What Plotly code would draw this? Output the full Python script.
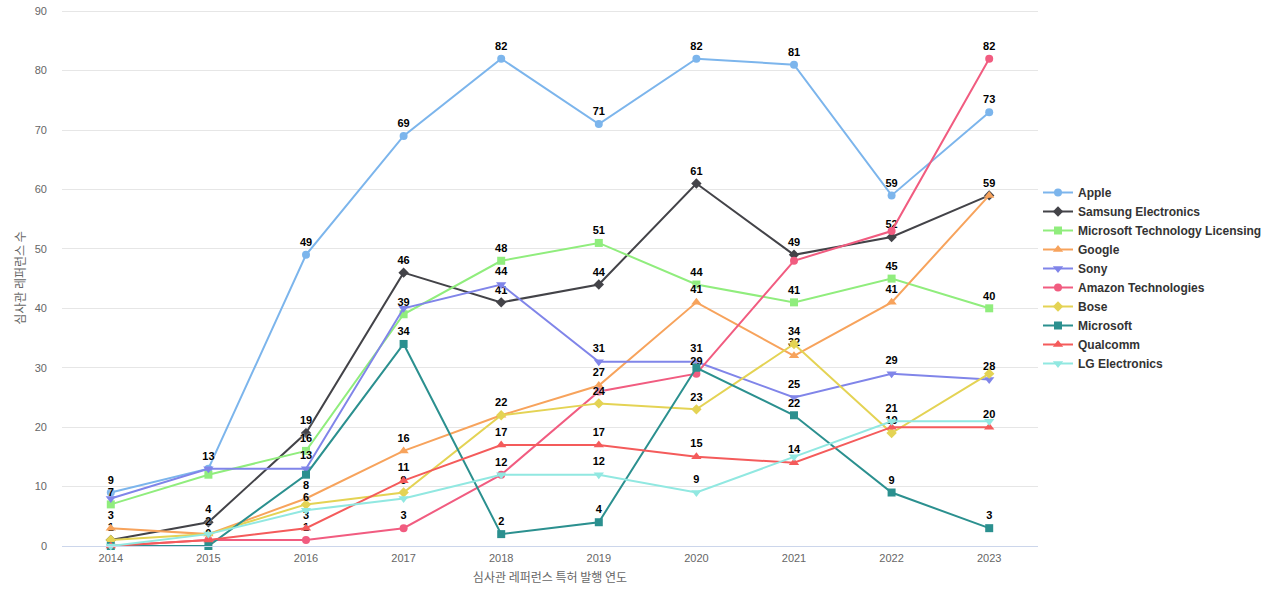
import plotly.graph_objects as go

years = [2014, 2015, 2016, 2017, 2018, 2019, 2020, 2021, 2022, 2023]

series_names = ["Apple", "Samsung Electronics", "Microsoft Technology Licensing", "Google",
                "Sony", "Amazon Technologies", "Bose", "Microsoft", "Qualcomm", "LG Electronics"]

apple = [9, 13, 49, 69, 82, 71, 82, 81, 59, 73]
samsung = [1, 4, 19, 46, 41, 44, 61, 49, 52, 59]
mtl = [7, 12, 16, 39, 48, 51, 44, 41, 45, 40]
google = [3, 2, 8, 16, 22, 27, 41, 32, 41, 59]
sony = [8, 13, 13, 40, 44, 31, 31, 25, 29, 28]
amazon = [0, 1, 1, 3, 12, 26, 29, 48, 53, 82]
bose = [1, 2, 7, 9, 22, 24, 23, 34, 19, 29]
microsoft = [0, 0, 12, 34, 2, 4, 30, 22, 9, 3]
qualcomm = [0, 1, 3, 11, 17, 17, 15, 14, 20, 20]
lg = [0, 2, 6, 8, 12, 12, 9, 15, 21, 21]

y_ticks = [0, 10, 20, 30, 40, 50, 60, 70, 80, 90]

all_values = [apple, samsung, mtl, google, sony, amazon, bose, microsoft, qualcomm, lg]
colors = ["#7cb5ec", "#434348", "#90ed7d", "#f7a35c", "#8085e9",
          "#f15c80", "#e4d354", "#2b908f", "#f45b5b", "#91e8e1"]
symbols = ["circle", "diamond", "square", "triangle-up", "triangle-down",
           "circle", "diamond", "square", "triangle-up", "triangle-down"]

# simple overlap hiding of data labels: earlier series win
texts = [[str(v) for v in vals] for vals in all_values]
for j in range(len(years)):
    kept = []
    for i, vals in enumerate(all_values):
        v = vals[j]
        if any(abs(v - k) < 1.9 for k in kept):
            texts[i][j] = ""
        else:
            kept.append(v)

fig = go.Figure()
for name, vals, col, sym, txt in zip(series_names, all_values, colors, symbols, texts):
    fig.add_trace(go.Scatter(
        x=years, y=vals, name=name, mode="lines+markers+text",
        line=dict(color=col, width=2),
        marker=dict(color=col, symbol=sym, size=8 if sym not in ("triangle-up", "triangle-down") else 9),
        text=txt, textposition="top center",
        textfont=dict(color="#000000", size=11, family="Liberation Sans, Arial, sans-serif",
                      weight="bold", shadow="0px 0px 2px #ffffff"),
        cliponaxis=False,
    ))

fig.update_layout(
    width=1280, height=600,
    margin=dict(l=62, r=242, t=10, b=54, autoexpand=False),
    paper_bgcolor="#ffffff", plot_bgcolor="#ffffff",
    font=dict(family="Liberation Sans, Arial, Noto Sans CJK KR, sans-serif", color="#666666"),
    showlegend=True,
    legend=dict(x=1.0, xanchor="left", y=0.5, yanchor="middle",
                font=dict(size=12, color="#333333", weight="bold"),
                bgcolor="rgba(0,0,0,0)", tracegroupgap=0, itemwidth=30),
    xaxis=dict(
        range=[2013.5, 2023.5], tickmode="array", tickvals=years,
        ticktext=[str(y) for y in years],
        showgrid=False, zeroline=False, automargin=False,
        showline=True, linecolor="#ccd6eb", linewidth=1,
        tickfont=dict(size=11, color="#666666"),
        ticklabelstandoff=2,
        title=dict(text="심사관 레퍼런스 특허 발행 연도", font=dict(size=12, color="#666666",
                   family="Noto Sans CJK KR, sans-serif"), standoff=10),
    ),
    yaxis=dict(
        range=[0, 90.2], tickmode="array", tickvals=y_ticks,
        showgrid=True, gridcolor="#e6e6e6", gridwidth=1, zeroline=False,
        showline=False, automargin=False,
        tickfont=dict(size=11, color="#666666"),
        ticklabelstandoff=14, ticklabeloverflow="allow",
        title=dict(text="심사관 레퍼런스 수", font=dict(size=12, color="#666666",
                   family="Noto Sans CJK KR, sans-serif"), standoff=6),
    ),
)

fig.write_html("out.html", config={"displayModeBar": False},
               post_script="document.body.style.margin='0';")
